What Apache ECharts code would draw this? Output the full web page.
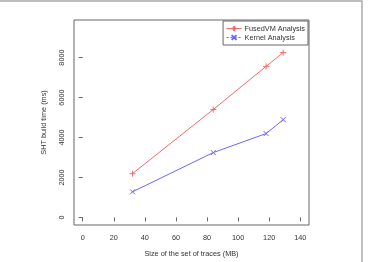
<!DOCTYPE html>
<html>
<head>
<meta charset="utf-8">
<script src="https://cdn.jsdelivr.net/npm/echarts@6/dist/echarts.min.js"></script>
<style>
  html, body { margin: 0; padding: 0; background: #fff; }
  #chart { width: 368px; height: 262px; }
</style>
</head>
<body>
<div id="chart"></div>
<script>
// trace set sizes (MB)
var traceSizes = [32, 84, 118, 129];
// SHT build time (ms)
var fusedVM = [2190, 5400, 7560, 8250];
var kernel = [1280, 3245, 4195, 4890];
var xTicks = [0, 20, 40, 60, 80, 100, 120, 140];
var yTicks = [0, 2000, 4000, 6000, 8000];

var FONT = 'Liberation Sans';
var plusPath = 'path://M0,-10L0,10M-10,0L10,0';
var crossPath = 'path://M-10,-10L10,10M-10,10L10,-10';

function pairs(xs, ys) {
    return xs.map(function(x, i) { return [x, ys[i]]; });
}

var chart = echarts.init(document.getElementById('chart'), null, { renderer: 'canvas' });

chart.setOption({
    animation: false,
    backgroundColor: '#fff',
    textStyle: { fontFamily: FONT },
    graphic: [{
        type: 'rect',
        shape: { x: -2, y: 1, width: 364, height: 270 },
        style: { fill: 'none', stroke: '#aaa', lineWidth: 1.5 },
        silent: true
    }],
    grid: {
        show: true,
        left: 74,
        right: 59,
        top: 20,
        bottom: 33,
        borderColor: '#666',
        borderWidth: 1,
        containLabel: false
    },
    legend: {
        right: 60,
        top: 21,
        orient: 'vertical',
        itemWidth: 15,
        itemHeight: 6,
        itemGap: 2,
        padding: [4, 3, 4, 3],
        borderColor: '#666',
        borderWidth: 1,
        borderRadius: 0,
        lineStyle: { width: 1 },
        textStyle: { fontFamily: FONT, fontSize: 7.3, color: '#333', padding: [0, 0, 0, -2] },
        data: [
            { name: 'FusedVM Analysis', lineStyle: { width: 1 } },
            { name: 'Kernel Analysis', lineStyle: { width: 1, type: [2, 2] } }
        ]
    },
    xAxis: {
        type: 'value',
        min: -5.6,
        max: 145.6,
        name: 'Size of the set of traces (MB)',
        nameLocation: 'middle',
        nameGap: 25,
        nameTextStyle: { fontFamily: FONT, fontSize: 7.3, color: '#333' },
        axisLine: { show: false },
        splitLine: { show: false },
        axisTick: { show: true, length: 4, customValues: xTicks, lineStyle: { color: '#666' } },
        axisLabel: {
            customValues: xTicks,
            margin: 9,
            fontFamily: FONT,
            fontSize: 7.3,
            color: '#333'
        }
    },
    yAxis: {
        type: 'value',
        min: -380,
        max: 9880,
        name: 'SHT build time (ms)',
        nameLocation: 'middle',
        nameRotate: 90,
        nameGap: 27,
        nameTextStyle: { fontFamily: FONT, fontSize: 7.3, color: '#333' },
        axisLine: { show: false },
        splitLine: { show: false },
        axisTick: { show: true, length: 4, customValues: yTicks, lineStyle: { color: '#666' } },
        axisLabel: {
            customValues: yTicks,
            rotate: 90,
            margin: 9,
            fontFamily: FONT,
            fontSize: 7.3,
            color: '#333',
            formatter: function(v) { return String(v); }
        }
    },
    series: [{
        name: 'FusedVM Analysis',
        type: 'line',
        data: pairs(traceSizes, fusedVM),
        symbol: plusPath,
        symbolSize: 6,
        showAllSymbol: true,
        lineStyle: { color: '#f46a6a', width: 1 },
        itemStyle: { color: '#f46a6a', borderColor: '#f46a6a', borderWidth: 1 }
    }, {
        name: 'Kernel Analysis',
        type: 'line',
        data: pairs(traceSizes, kernel),
        symbol: crossPath,
        symbolSize: 5,
        showAllSymbol: true,
        lineStyle: { color: '#6a6af4', width: 1 },
        itemStyle: { color: '#6a6af4', borderColor: '#6a6af4', borderWidth: 1 }
    }]
});
</script>
</body>
</html>
